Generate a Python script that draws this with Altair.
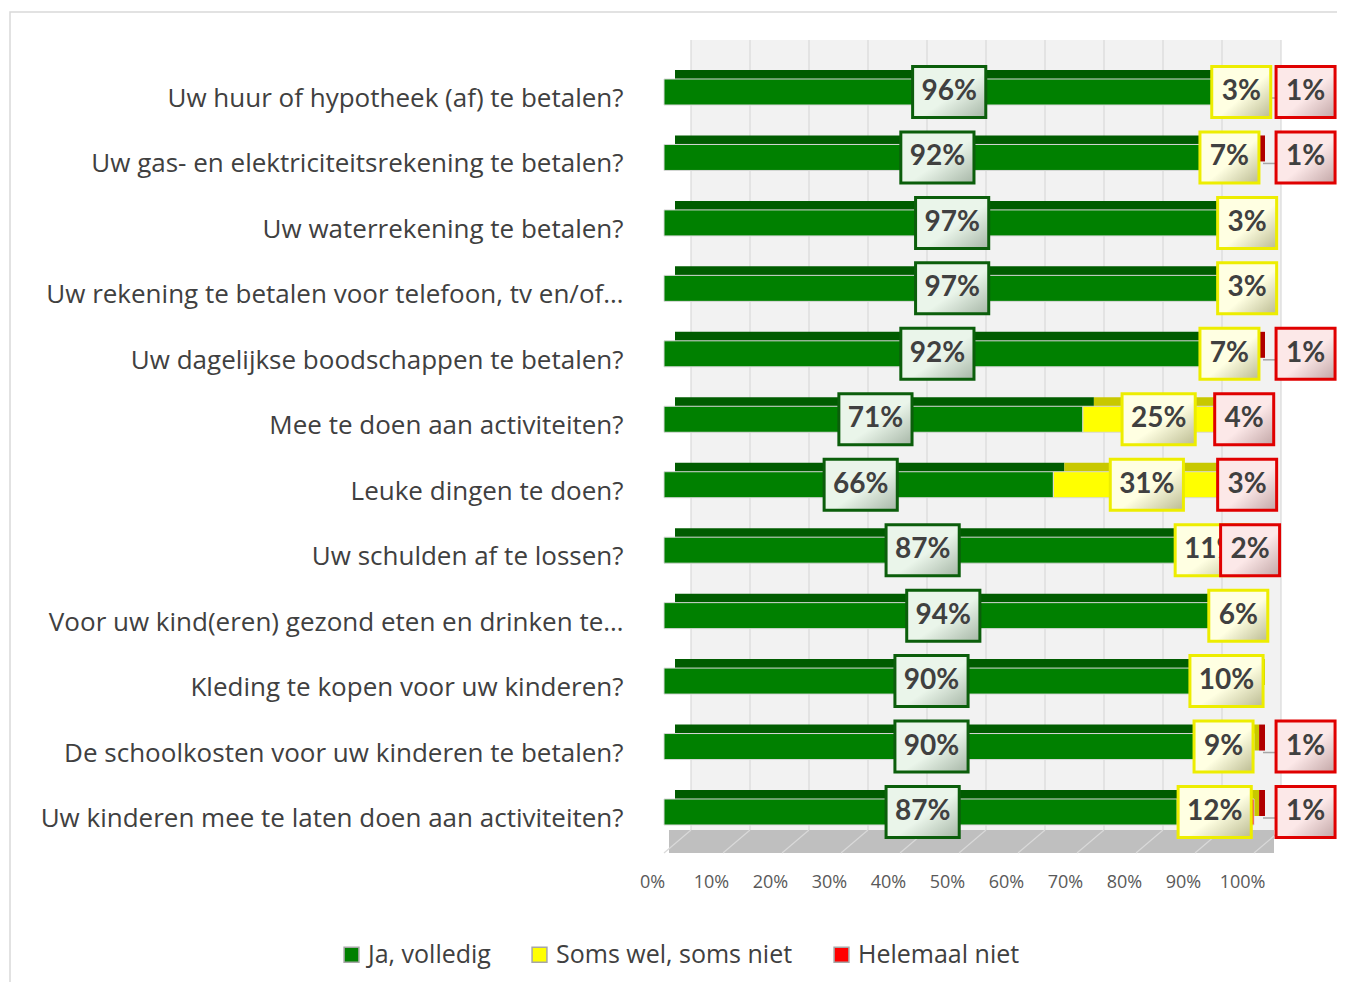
import altair as alt
import pandas as pd

categories = [
    "Uw huur of hypotheek (af) te betalen?",
    "Uw gas- en elektriciteitsrekening te betalen?",
    "Uw waterrekening te betalen?",
    "Uw rekening te betalen voor telefoon, tv en/of…",
    "Uw dagelijkse boodschappen te betalen?",
    "Mee te doen aan activiteiten?",
    "Leuke dingen te doen?",
    "Uw schulden af te lossen?",
    "Voor uw kind(eren) gezond eten en drinken te…",
    "Kleding te kopen voor uw kinderen?",
    "De schoolkosten voor uw kinderen te betalen?",
    "Uw kinderen mee te laten doen aan activiteiten?",
]
ja = [96, 92, 97, 97, 92, 71, 66, 87, 94, 90, 90, 87]
soms = [3, 7, 3, 3, 7, 25, 31, 11, 6, 10, 9, 12]
niet = [1, 1, 0, 0, 1, 4, 3, 2, 0, 0, 1, 1]
series = ["Ja, volledig", "Soms wel, soms niet", "Helemaal niet"]
ticks = [0, 10, 20, 30, 40, 50, 60, 70, 80, 90, 100]

front_colors = ["#008000", "#FFFF00", "#FF0000"]
top_colors = ["#005C00", "#C8C800", "#B00000"]
box_strokes = ["#0B5E0B", "#EDED00", "#E00000"]
box_grads = [("#EAF5EA", "#A6B6A6"), ("#FFFFE2", "#BBBB92"), ("#FCE8E8", "#C2A6A6")]

rows = []
for i, cat in enumerate(categories):
    start = 0
    for k, vals in enumerate([ja, soms, niet]):
        v = vals[i]
        rows.append(dict(cat=cat, series=series[k], k=k, v=v, start=start, end=start + v))
        start += v
df = pd.DataFrame(rows)
df["label"] = df["v"].astype(str) + "%"
df["mid"] = (df["start"] + df["end"]) / 2
# Excel pushes tiny last-segment labels outside the bar
df["pushed"] = (df["k"] == 2) & (df["v"] <= 1)
df["lpos"] = df["mid"].where(~df["pushed"], 108.4)
df["hw"] = df["v"].apply(lambda v: 6.2 if v >= 10 else 5.0)
df["bx0"] = df["lpos"] - df["hw"]
df["bx1"] = df["lpos"] + df["hw"]
lab = df[df["v"] > 0]
lead = df[df["pushed"] & (df["v"] > 0)]

FONT = "Open Sans"
LFONT = "Lato"
xscale = alt.Scale(domain=[0, 100], nice=False, zero=True)
yscale = alt.Scale(domain=categories, paddingInner=0, paddingOuter=0.2945)

xaxis = alt.Axis(values=ticks, labelExpr="datum.value + '%'", domain=False, ticks=False,
                 grid=False, labelOffset=-12, labelPadding=9, labelFont=FONT, labelFlush=False,
                 labelOverlap=False, labelFontSize=18, labelColor="#595959", title=None)
yaxis = alt.Axis(domain=False, ticks=False, grid=False, labelPadding=41, labelLimit=900,
                 labelOffset=7, labelFont=FONT, labelFontSize=26, labelColor="#404040", title=None)

walldf = pd.DataFrame({"x0": [0], "x1": [100]})
tickdf = pd.DataFrame({"t": ticks})

border = alt.Chart(pd.DataFrame({"a": [0]})).mark_rect(
    fillOpacity=0, stroke="#D9D9D9", strokeWidth=1.5
).encode(x=alt.value(-654), x2=alt.value(720), y=alt.value(-28), y2=alt.value(1000))

wall = alt.Chart(walldf).mark_rect(color="#F2F2F2", xOffset=27, x2Offset=27).encode(
    x=alt.X("x0:Q", scale=xscale, axis=xaxis), x2="x1:Q",
    y=alt.value(0), y2=alt.value(790))

floor = alt.Chart(walldf).mark_rect(color="#BFBFBF", xOffset=5, x2Offset=20).encode(
    x=alt.X("x0:Q", scale=xscale, axis=xaxis), x2="x1:Q",
    y=alt.value(790), y2=alt.value(813))

floorlines = alt.Chart(tickdf).mark_rule(color="#D9D9D9", strokeWidth=1.2, xOffset=0, x2Offset=27).encode(
    x=alt.X("t:Q", scale=xscale, axis=xaxis), x2="t:Q",
    y=alt.value(813), y2=alt.value(790))

grid = alt.Chart(tickdf).mark_rule(color="#D9D9D9", strokeWidth=1.2, xOffset=27).encode(
    x=alt.X("t:Q", scale=xscale, axis=xaxis), y=alt.value(0), y2=alt.value(790))

back = alt.Chart(df).mark_bar(size=26, xOffset=11, x2Offset=11, yOffset=-9).encode(
    x=alt.X("start:Q", scale=xscale, axis=xaxis), x2="end:Q",
    y=alt.Y("cat:N", scale=yscale, axis=yaxis),
    color=alt.Color("series:N", scale=alt.Scale(domain=series, range=top_colors), legend=None),
)

front = alt.Chart(df).mark_bar(size=26, stroke="#D8D8D8", strokeWidth=1).encode(
    x=alt.X("start:Q", scale=xscale, axis=xaxis),
    x2="end:Q",
    y=alt.Y("cat:N", scale=yscale, axis=yaxis),
    color=alt.Color("series:N", scale=alt.Scale(domain=series, range=front_colors),
                    legend=alt.Legend(orient="none", legendX=-325, legendY=902, direction="horizontal",
                                      title=None, symbolType="square", symbolSize=220,
                                      symbolStrokeColor="#A6A6A6", symbolStrokeWidth=1.5,
                                      labelFont=FONT, labelFontSize=25, labelColor="#404040",
                                      labelLimit=500, columnPadding=36, labelOffset=4)),
)

leader = alt.Chart(lead).mark_rule(color="#A6A6A6", strokeWidth=1.5, xOffset=9, x2Offset=2, yOffset=6).encode(
    x=alt.X("end:Q", scale=xscale, axis=xaxis), x2="bx0:Q",
    y=alt.Y("cat:N", scale=yscale, axis=yaxis),
)

boxes = []
for k, s in enumerate(series):
    g0, g1 = box_grads[k]
    boxes.append(
        alt.Chart(lab[lab["series"] == s]).mark_bar(
            size=51, xOffset=2, x2Offset=2, stroke=box_strokes[k], strokeWidth=3,
            fill={"gradient": "linear", "x1": 0, "y1": 0, "x2": 1, "y2": 1,
                  "stops": [{"offset": 0, "color": g0}, {"offset": 0.55, "color": g0},
                            {"offset": 1, "color": g1}]},
        ).encode(
            x=alt.X("bx0:Q", scale=xscale, axis=xaxis), x2="bx1:Q",
            y=alt.Y("cat:N", scale=yscale, axis=yaxis),
        )
    )
    boxes.append(
        alt.Chart(lab[lab["series"] == s]).mark_text(
            font=LFONT, fontSize=28, fontWeight="bold", color="#404040", dx=2, baseline="middle"
        ).encode(
            x=alt.X("lpos:Q", scale=xscale, axis=xaxis),
            y=alt.Y("cat:N", scale=yscale, axis=yaxis),
            text="label:N",
        )
    )

chart = alt.layer(border, wall, floor, floorlines, grid, back, front, leader, *boxes).resolve_scale(
    color="independent"
).properties(
    width=590, height=824,
    autosize=alt.AutoSizeParams(type="none"),
    padding={"left": 656, "top": 32, "right": 83, "bottom": 118},
    background="white",
).configure_view(stroke=None)

chart.save("out.html", embed_options={"renderer": "svg", "actions": False})
